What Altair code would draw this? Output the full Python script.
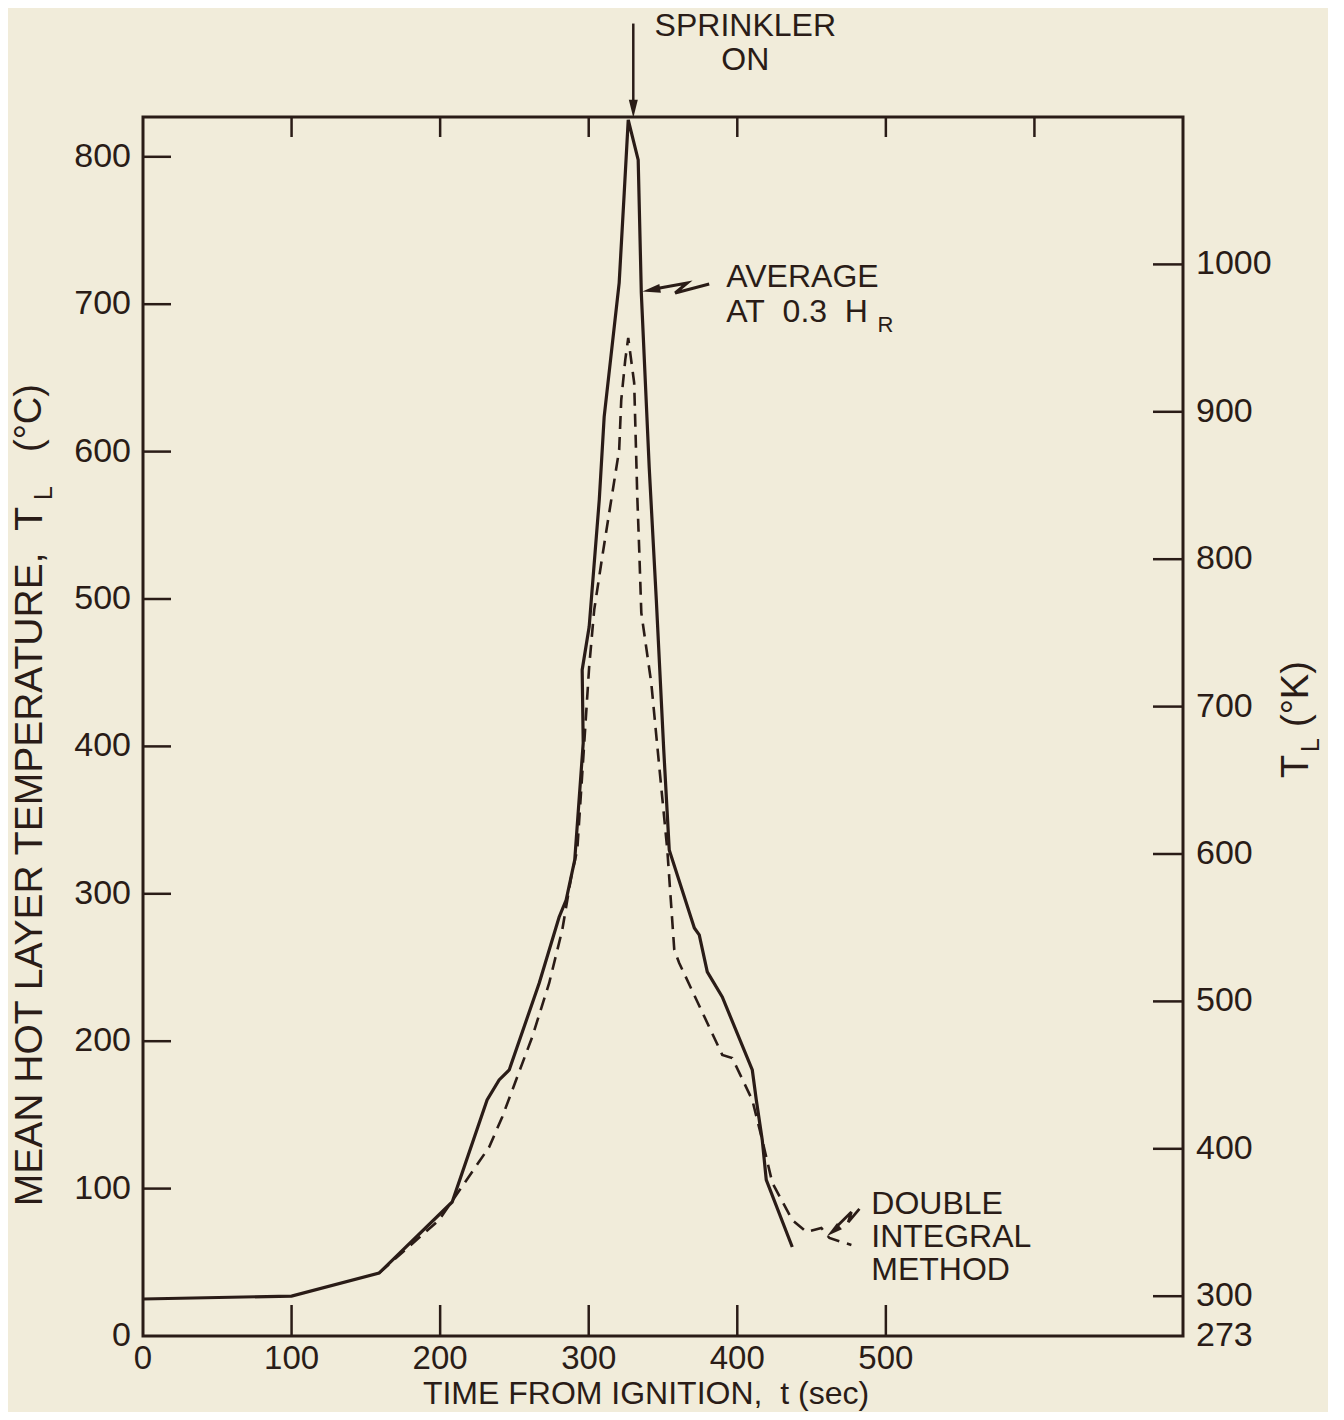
import altair as alt
import pandas as pd

# ---------------- data ----------------
# Average at 0.3 H_R (solid)
avg_t = [0, 100, 158.9, 208.1, 231.6, 239.7, 246.5, 266.7, 280.1, 284.8, 290.6,
         296.3, 295.6, 300.3, 307.1, 310.4, 320.5, 323.9, 326.6, 333.3, 335.4,
         340.7, 345.5, 350.5, 354.2, 371.1, 374.4, 379.8, 389.9, 410.1, 412.8,
         416.8, 419.5, 437.0]
avg_T = [25.1, 27.1, 42.7, 90.9, 160.1, 173.7, 180.5, 239.5, 284.3, 295.8, 323.0,
         402.4, 451.9, 481.1, 567.2, 623.6, 714.5, 775.5, 825.1, 797.9, 707.7,
         589.6, 499.4, 397.6, 329.8, 276.8, 272.1, 247.0, 230.0, 180.5, 160.1,
         133.0, 105.9, 60.4]
# Double integral method (dashed)
dbl_t = [158.9, 199.3, 233.0, 241.8, 262.0, 273.4, 282.2, 288.2, 292.3, 297.0,
         300.3, 303.7, 309.1, 320.5, 321.9, 324.6, 326.6, 330.6, 332.7, 334.0,
         335.4, 342.1, 347.5, 352.9, 357.6, 360.9, 389.9, 396.6, 410.1, 416.8,
         423.6, 437.0, 446.5, 456.6, 462.0, 476.8]
dbl_T = [42.7, 78.7, 128.2, 148.6, 202.9, 239.5, 275.5, 311.4, 329.8, 402.4,
         453.9, 492.6, 528.6, 601.2, 635.1, 662.2, 677.2, 646.6, 569.3, 533.3,
         490.6, 443.1, 386.1, 329.8, 261.9, 253.1, 190.7, 188.6, 160.1, 133.0,
         103.8, 78.7, 70.6, 73.3, 66.5, 61.7]

x_labels = [0, 100, 200, 300, 400, 500]
x_ticks_bottom = [100, 200, 300, 400, 500]
x_ticks_top = [100, 200, 300, 400, 500, 600]
y_labels_C = [0, 100, 200, 300, 400, 500, 600, 700, 800]
y_ticks_C = [100, 200, 300, 400, 500, 600, 700, 800]
k_labels = [273, 300, 400, 500, 600, 700, 800, 900, 1000]
k_ticks = [300, 400, 500, 600, 700, 800, 900, 1000]

sprinkler_t = 330

# annotation pointer squiggles (in data units)
avg_sq_t = [344.1, 366.3, 358.2, 381.1]
avg_sq_T = [710.3, 714.4, 707.6, 713.7]
dbl_sq_t = [482.2, 474.7, 476.8, 467.3]
dbl_sq_T = [86.2, 77.3, 84.1, 74.6]

# ---------------- styling ----------------
INK = "#2a1c17"
BG = "#f1ecda"
FONT = "Liberation Sans"
W, H = 1040, 1219
NB = "\u00a0"
xs = alt.Scale(domain=[0, 700], nice=False, zero=False)
ys = alt.Scale(domain=[0, 827], nice=False, zero=False)
ARROW = "M-0.5,-1L0.5,-1L0,1Z"

avg_df = pd.DataFrame({"t": avg_t, "T": avg_T, "i": range(len(avg_t))})
dbl_df = pd.DataFrame({"t": dbl_t, "T": dbl_T, "i": range(len(dbl_t))})


def X(field="t:Q"):
    return alt.X(field, scale=xs, axis=None)


def Y(field="T:Q"):
    return alt.Y(field, scale=ys, axis=None)


def XD(v):
    return alt.XDatum(v, scale=xs, axis=None)


def YD(v):
    return alt.YDatum(v, scale=ys, axis=None)


solid = alt.Chart(avg_df).mark_line(color=INK, strokeWidth=3.2).encode(
    x=X(), y=Y(), order="i:Q")

dashed = alt.Chart(dbl_df).mark_line(color=INK, strokeWidth=2.6, strokeDash=[13, 8]).encode(
    x=X(), y=Y(), order="i:Q")

# tick labels
bottom_labels = alt.Chart(pd.DataFrame({"t": x_labels})).mark_text(
    align="center", baseline="top", font=FONT, fontSize=33, color=INK).encode(
    x=X(), y=alt.value(H + 7), text=alt.Text("t:Q", format="d"))

left_labels = alt.Chart(pd.DataFrame({"C": y_labels_C})).mark_text(
    align="right", baseline="middle", font=FONT, fontSize=34, color=INK).encode(
    y=Y("C:Q"), x=alt.value(-12), text=alt.Text("C:Q", format="d"))

right_labels = alt.Chart(pd.DataFrame({"K": k_labels})).transform_calculate(
    C="datum.K - 273").mark_text(align="left", baseline="middle", font=FONT,
                                 fontSize=34, color=INK).encode(
    y=Y("C:Q"), x=alt.value(W + 13), text=alt.Text("K:Q", format="d"))

# inward ticks
left_ticks = alt.Chart(pd.DataFrame({"C": y_ticks_C})).mark_rule(color=INK, strokeWidth=2.5).encode(
    y=Y("C:Q"), x=alt.value(0), x2=alt.value(28))

right_ticks = alt.Chart(pd.DataFrame({"K": k_ticks})).transform_calculate(
    C="datum.K - 273").mark_rule(color=INK, strokeWidth=2.5).encode(
    y=Y("C:Q"), x=alt.value(W - 30), x2=alt.value(W))

top_ticks = alt.Chart(pd.DataFrame({"t": x_ticks_top})).mark_rule(color=INK, strokeWidth=2.5).encode(
    x=X(), y=alt.value(0), y2=alt.value(20))

bottom_ticks = alt.Chart(pd.DataFrame({"t": x_ticks_bottom})).mark_rule(color=INK, strokeWidth=2.5).encode(
    x=X(), y=alt.value(H - 31), y2=alt.value(H))

one = pd.DataFrame({"a": [0]})


def dtext(txt, t, T, size=32, align="left"):
    return alt.Chart(one).mark_text(text=txt, align=align, baseline="middle", font=FONT,
                                    fontSize=size, color=INK).encode(x=XD(t), y=YD(T))


def ptext(txt, px, py, size=34, angle=0, align="center"):
    return alt.Chart(one).mark_text(text=txt, align=align, baseline="middle", font=FONT,
                                    fontSize=size, color=INK, angle=angle).encode(
        x=alt.value(px), y=alt.value(py))


# sprinkler arrow
spr_line = alt.Chart(one).mark_rule(color=INK, strokeWidth=2.5).encode(
    x=XD(sprinkler_t), y=YD(890.4), y2=alt.Y2Datum(835))
spr_head = alt.Chart(one).mark_point(shape=ARROW, size=324, filled=True, color=INK, opacity=1).encode(
    x=XD(sprinkler_t), y=YD(832.6))

avg_sq = alt.Chart(pd.DataFrame({"t": avg_sq_t, "T": avg_sq_T, "i": range(4)})).mark_line(
    color=INK, strokeWidth=3).encode(x=X(), y=Y(), order="i:Q")
avg_head = alt.Chart(one).mark_point(shape=ARROW, size=324, filled=True, color=INK, opacity=1,
                                     angle=80).encode(x=XD(342.1), y=YD(709.7))

dbl_sq = alt.Chart(pd.DataFrame({"t": dbl_sq_t, "T": dbl_sq_T, "i": range(4)})).mark_line(
    color=INK, strokeWidth=2.8).encode(x=X(), y=Y(), order="i:Q")
dbl_head = alt.Chart(one).mark_point(shape=ARROW, size=250, filled=True, color=INK, opacity=1,
                                     angle=52).encode(x=XD(464.6), y=YD(71.2))

annotations = [
    dtext("SPRINKLER", 405.4, 888.9, align="center"),
    dtext("ON", 405.4, 865.8, align="center"),
    dtext("AVERAGE", 392.6, 718.5),
    dtext("AT" + NB + NB + "0.3" + NB + NB + "H", 392.6, 694.8),
    dtext("R", 494.3, 686.0, size=22),
    dtext("DOUBLE", 490.2, 89.6),
    dtext("INTEGRAL", 490.2, 67.2),
    dtext("METHOD", 490.2, 44.8),
]

titles = [
    ptext("TIME FROM IGNITION," + NB + NB + "t (sec)", 503, 1277, size=32),
    ptext("MEAN HOT LAYER TEMPERATURE," + NB + NB + "T", -113, 390, size=39, angle=270, align="right"),
    ptext("L", -99, 383, size=25, angle=270, align="left"),
    ptext("(°C)", -113, 335, size=38, angle=270, align="left"),
    ptext("T", 1154, 661, size=38, angle=270, align="left"),
    ptext("L", 1168, 635, size=25, angle=270, align="left"),
    ptext("(°K)", 1154, 610, size=38, angle=270, align="left"),
]

chart = alt.layer(
    solid, dashed, bottom_labels, left_labels, right_labels,
    left_ticks, right_ticks, top_ticks, bottom_ticks,
    spr_line, spr_head, avg_sq, avg_head, dbl_sq, dbl_head, *annotations, *titles
).properties(
    width=W, height=H,
    autosize=alt.AutoSizeParams(type="none"),
    padding={"left": 135, "top": 109, "right": 145, "bottom": 76},
    background=BG,
).configure_view(stroke=INK, strokeWidth=3)

chart.save("out.html", embed_options={"renderer": "svg", "actions": False})
